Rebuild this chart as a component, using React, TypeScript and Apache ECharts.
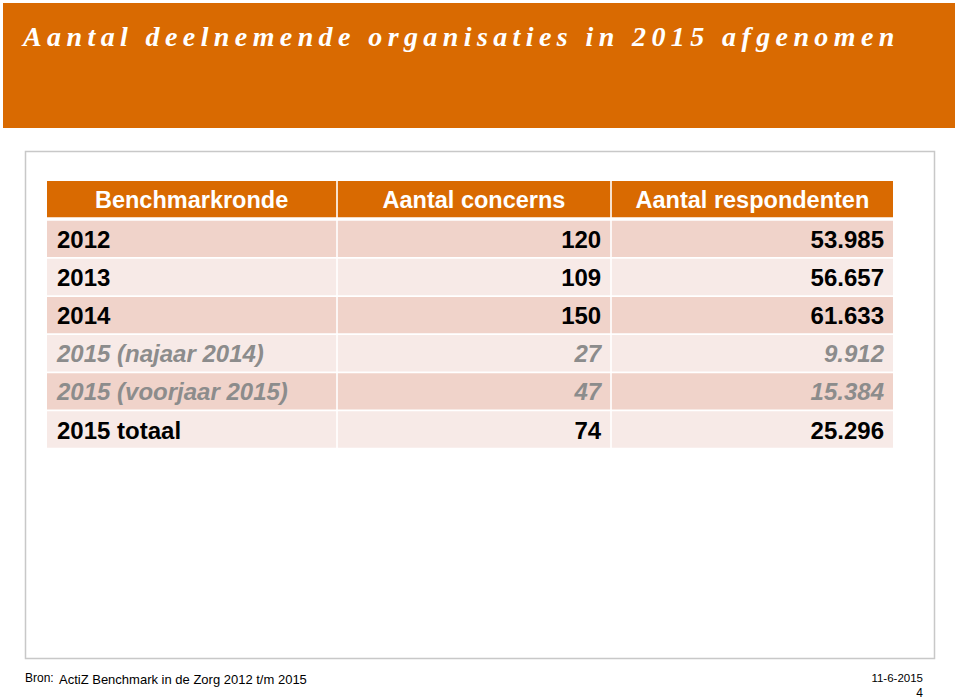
import React, { useEffect, useRef } from "react";
import * as echarts from "echarts";

const title = "Aantal deelnemende organisaties in 2015 afgenomen";
const headers = ["Benchmarkronde", "Aantal concerns", "Aantal respondenten"];
const rounds = [
  "2012",
  "2013",
  "2014",
  "2015 (najaar 2014)",
  "2015 (voorjaar 2015)",
  "2015 totaal",
];
const concerns = [120, 109, 150, 27, 47, 74];
const respondents = [53985, 56657, 61633, 9912, 15384, 25296];
const partialRound = [false, false, false, true, true, false];
const sourceLabel = "Bron:";
const sourceText = "ActiZ Benchmark in de Zorg 2012 t/m 2015";
const dateText = "11-6-2015";
const pageText = "4";

const ORANGE = "#D96A01";
const DARK_ROW = "#F0D3CA";
const LIGHT_ROW = "#F7EAE7";
const GREY_TEXT = "#8C8C8C";
const colEdges = [0, 290, 564, 846];

function fmt(n: number): string {
  return String(n).replace(/\B(?=(\d{3})+(?!\d))/g, ".");
}

type Cell = { col: number; row: number; text: string; kind: "header" | "data"; italic: boolean };

function buildCells(): Cell[] {
  const cells: Cell[] = [];
  headers.forEach((h, c) => cells.push({ col: c, row: 0, text: h, kind: "header", italic: false }));
  rounds.forEach((r, i) => {
    const it = partialRound[i];
    cells.push({ col: 0, row: i + 1, text: r, kind: "data", italic: it });
    cells.push({ col: 1, row: i + 1, text: fmt(concerns[i]), kind: "data", italic: it });
    cells.push({ col: 2, row: i + 1, text: fmt(respondents[i]), kind: "data", italic: it });
  });
  return cells;
}

export default function App() {
  const ref = useRef<HTMLDivElement>(null);
  useEffect(() => {
    if (!ref.current) return;
    const chart = echarts.init(ref.current, undefined, { renderer: "svg" });
    const cells = buildCells();
    const rowNames = ["header", ...rounds];
    const option: any = {
      animation: false,
      backgroundColor: "#ffffff",
      grid: { left: 47, right: 66, top: 181, bottom: 251 },
      xAxis: { type: "value", min: 0, max: 846, show: false },
      yAxis: { type: "category", data: rowNames, inverse: true, show: false },
      graphic: [
        {
          type: "rect",
          shape: { x: 3, y: 3, width: 952, height: 125 },
          style: { fill: ORANGE },
          silent: true,
        },
        {
          type: "text",
          x: 23,
          y: 36,
          style: {
            text: title,
            fill: "#ffffff",
            fontFamily: "Liberation Serif",
            fontStyle: "italic",
            fontWeight: "bold",
            fontSize: 28,
            align: "left",
            verticalAlign: "middle",
          },
          silent: true,
        },
        {
          type: "rect",
          shape: { x: 25.5, y: 151.5, width: 909, height: 507 },
          style: { fill: "none", stroke: "#C8C8C8", lineWidth: 1.5 },
          silent: true,
        },
        {
          type: "text",
          x: 25,
          y: 678,
          style: {
            text: sourceLabel,
            fill: "#000",
            fontFamily: "Liberation Sans",
            fontSize: 12,
            align: "left",
            verticalAlign: "middle",
          },
        },
        {
          type: "text",
          x: 59,
          y: 679,
          style: {
            text: sourceText,
            fill: "#000",
            fontFamily: "Liberation Sans",
            fontSize: 13,
            align: "left",
            verticalAlign: "middle",
          },
        },
        {
          type: "text",
          x: 923,
          y: 678,
          style: {
            text: dateText,
            fill: "#000",
            fontFamily: "Liberation Sans",
            fontSize: 11.5,
            align: "right",
            verticalAlign: "middle",
          },
        },
        {
          type: "text",
          x: 923,
          y: 693,
          style: {
            text: pageText,
            fill: "#000",
            fontFamily: "Liberation Sans",
            fontSize: 12,
            align: "right",
            verticalAlign: "middle",
          },
        },
      ],
      series: [
        {
          type: "custom",
          data: cells.map((c) => [c.col, c.row]),
          encode: { x: 0, y: 1 },
          renderItem: (params: any, api: any) => {
            const cell = cells[params.dataIndex];
            const c = api.value(0);
            const r = api.value(1);
            const p0 = api.coord([colEdges[c], r]);
            const p1 = api.coord([colEdges[c + 1], r]);
            const band = api.size([0, 1])[1];
            const x0 = p0[0] + (c > 0 ? 0.8 : 0);
            const x1 = p1[0] - (c < 2 ? 0.8 : 0);
            let y0: number, y1: number;
            if (cell.kind === "header") {
              y0 = p0[1] - band / 2;
              y1 = p0[1] + band / 2 - 2;
            } else {
              y0 = p0[1] - band / 2 + 1.5;
              y1 = p0[1] + band / 2 - 0.3;
            }
            const fill =
              cell.kind === "header" ? ORANGE : cell.row % 2 === 1 ? DARK_ROW : LIGHT_ROW;
            let tx: number, align: string;
            if (cell.kind === "header") {
              tx = (x0 + x1) / 2;
              align = "center";
            } else if (c === 0) {
              tx = x0 + 10;
              align = "left";
            } else {
              tx = x1 - 9;
              align = "right";
            }
            const textColor =
              cell.kind === "header" ? "#ffffff" : cell.italic ? GREY_TEXT : "#000000";
            return {
              type: "group",
              children: [
                {
                  type: "rect",
                  shape: { x: x0, y: y0, width: x1 - x0, height: y1 - y0 },
                  style: { fill },
                },
                {
                  type: "text",
                  x: tx,
                  y: (y0 + y1) / 2 + 0.5,
                  style: {
                    text: cell.text,
                    fill: textColor,
                    fontFamily: "Liberation Sans",
                    fontWeight: "bold",
                    fontStyle: cell.italic ? "italic" : "normal",
                    fontSize: cell.kind === "header" ? 23.5 : 24,
                    align,
                    verticalAlign: "middle",
                  },
                },
              ],
            };
          },
        },
      ],
    };
    chart.setOption(option);
    return () => chart.dispose();
  }, []);

  return (
    <>
      <style>{`#slide text[style*="Liberation Serif"] { letter-spacing: 5.4px; }`}</style>
      <div
        id="slide"
        ref={ref}
        style={{ position: "fixed", left: 0, top: 0, width: 959, height: 699 }}
      />
    </>
  );
}
